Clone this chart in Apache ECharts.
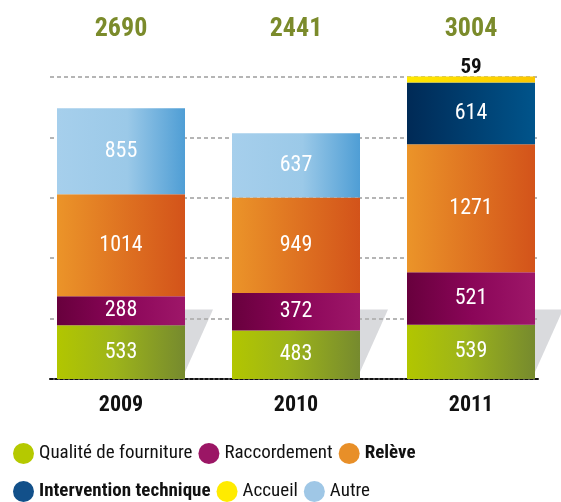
<!DOCTYPE html>
<html>
<head>
<meta charset="utf-8">
<script src="https://cdn.jsdelivr.net/npm/echarts@6/dist/echarts.min.js"></script>
<style>
html,body{margin:0;padding:0;background:#fff;}
#c{width:561px;height:502px;}
</style>
</head>
<body>
<div id="c"></div>
<script>
var categories = ['2009', '2010', '2011'];
var qualite = [533, 483, 539];
var raccordement = [288, 372, 521];
var releve = [1014, 949, 1271];
var intervention = [null, null, 614];
var accueil = [null, null, 59];
var autre = [855, 637, null];
var yTicks = [0, 600, 1200, 1800, 2400, 3000];

var FONT = "'Roboto Condensed', 'DejaVu Sans Condensed', sans-serif";
var all = [qualite, raccordement, releve, intervention, accueil, autre];
var totals = categories.map(function (c, i) {
  return all.reduce(function (s, arr) { return s + (arr[i] || 0); }, 0);
});

function grad(stops) {
  return new echarts.graphic.LinearGradient(0, 0, 1, 0, stops.map(function (s) {
    return { offset: s[0], color: s[1] };
  }));
}

var chart = echarts.init(document.getElementById('c'), null, { renderer: 'canvas' });

function barSeries(name, data, stops, labelCfg) {
  return {
    name: name, type: 'bar', stack: 'total', xAxisIndex: 1, yAxisIndex: 1,
    data: data, barWidth: 128, clip: false, z: 3,
    itemStyle: { color: grad(stops) },
    label: labelCfg || {
      show: true, position: 'inside', color: '#fff', fontFamily: FONT,
      fontSize: 22, fontWeight: 'normal'
    }
  };
}

var legendText = { fontFamily: FONT, fontSize: 19, color: '#111', lineHeight: 21 };

var option = {
  animation: false,
  grid: [
    { left: 50, width: 489, top: 77, bottom: 123 },
    { left: 33.5, width: 525, top: 77, bottom: 123 }
  ],
  xAxis: [
    { type: 'category', gridIndex: 0, data: categories, z: 1,
      axisLine: { show: true, lineStyle: { color: '#111', width: 2, type: [3, 2] } },
      axisTick: { show: false }, axisLabel: { show: false }, splitLine: { show: false } },
    { type: 'category', gridIndex: 1, data: categories,
      axisLine: { show: false }, axisTick: { show: false },
      axisLabel: { color: '#111', fontFamily: FONT, fontSize: 22, fontWeight: 'bold', margin: 15 } },
    { type: 'category', gridIndex: 1, position: 'top', data: totals.map(String),
      axisLine: { show: false }, axisTick: { show: false },
      axisLabel: { color: '#7b8b2b', fontFamily: FONT, fontSize: 26, fontWeight: 'bold', margin: 35 } }
  ],
  yAxis: [
    { type: 'value', gridIndex: 0, min: yTicks[0], max: yTicks[yTicks.length - 1], interval: 600, z: 1,
      axisLine: { show: false }, axisTick: { show: false }, axisLabel: { show: false },
      splitLine: { show: true, showMinLine: false, lineStyle: { color: '#b5b5b5', width: 2, type: [4, 3] } } },
    { type: 'value', gridIndex: 1, min: yTicks[0], max: yTicks[yTicks.length - 1], interval: 600,
      axisLine: { show: false }, axisTick: { show: false }, axisLabel: { show: false },
      splitLine: { show: false } }
  ],
  legend: [
    { left: 13, top: 443, itemWidth: 21, itemHeight: 21, itemGap: 6, icon: 'circle',
      selectedMode: false, padding: 0,
      textStyle: legendText,
      data: [
        { name: 'Qualité de fourniture', itemStyle: { color: '#b5c900' } },
        { name: 'Raccordement', itemStyle: { color: '#9b1665' } },
        { name: 'Relève', itemStyle: { color: '#e88f28' }, textStyle: { fontWeight: 'bold' } }
      ] },
    { left: 13, top: 481, itemWidth: 21, itemHeight: 21, itemGap: 6, icon: 'circle',
      selectedMode: false, padding: 0,
      textStyle: legendText,
      data: [
        { name: 'Intervention technique', itemStyle: { color: '#12508a' }, textStyle: { fontWeight: 'bold' } },
        { name: 'Accueil', itemStyle: { color: '#ffeb00' } },
        { name: 'Autre', itemStyle: { color: '#9fc7e6' } }
      ] }
  ],
  series: [
    {
      type: 'custom', xAxisIndex: 1, yAxisIndex: 1, z: 0, silent: true,
      data: categories.map(function (c, i) { return [i]; }),
      renderItem: function (params, api) {
        var i = api.value(0);
        var base = api.coord([i, 0]);
        var top = api.coord([i, 690]);
        var right = base[0] + 64;
        return {
          type: 'polygon',
          shape: { points: [[base[0], top[1]], [right + 28, top[1]], [right, base[1] - 7], [base[0], base[1] - 7]] },
          style: { fill: '#d9dadd' }
        };
      }
    },
    barSeries('Qualité de fourniture', qualite, [[0, '#b2c600'], [0.45, '#9db41a'], [1, '#768a2e']]),
    barSeries('Raccordement', raccordement, [[0, '#68003d'], [0.5, '#8a0558'], [1, '#9e1769']]),
    barSeries('Relève', releve, [[0, '#eb9429'], [1, '#d3531a']]),
    barSeries('Intervention technique', intervention, [[0, '#002a56'], [1, '#00548b']]),
    barSeries('Accueil', accueil, [[0, '#ffe800'], [1, '#fcc700']], {
      show: true, position: 'top', distance: -2, color: '#111', fontFamily: FONT,
      fontSize: 21, fontWeight: 'bold'
    }),
    barSeries('Autre', autre, [[0, '#a6cfec'], [0.55, '#9bc9e8'], [1, '#4f9ed5']])
  ]
};
chart.setOption(option);
</script>
</body>
</html>
